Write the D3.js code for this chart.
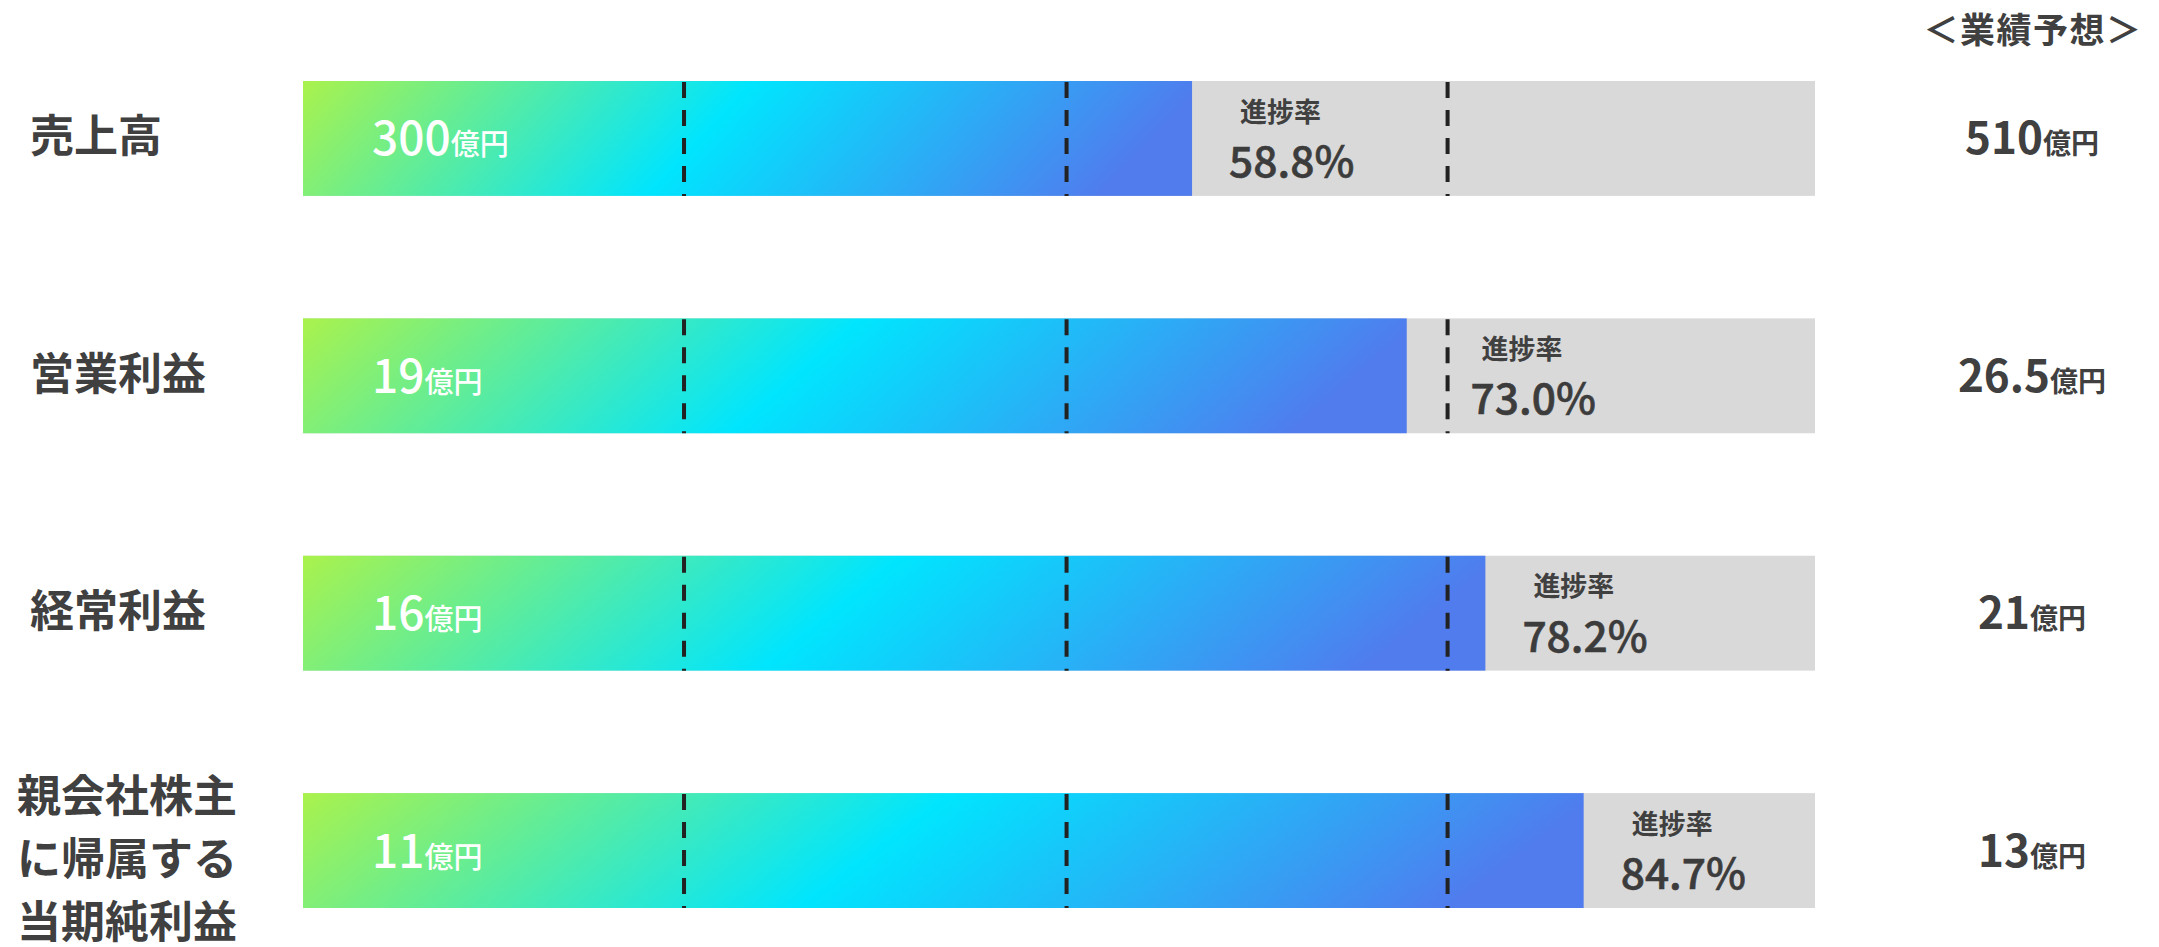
<!DOCTYPE html>
<html>
<head>
<meta charset="utf-8">
<script src="https://cdn.jsdelivr.net/npm/d3@7"></script>
<style>
  html, body { margin: 0; padding: 0; background: #fff; }
  svg { display: block; font-family: "Noto Sans CJK JP", "Noto Sans", sans-serif; }
</style>
</head>
<body>
<div class="diagram-canvas"></div>
<script>
let categories = ["売上高", "営業利益", "経常利益", "親会社株主に帰属する当期純利益"];
let labelLines = [["売上高"], ["営業利益"], ["経常利益"], ["親会社株主", "に帰属する", "当期純利益"]];
let actualValues = ["300", "19", "16", "11"];
let forecastValues = ["510", "26.5", "21", "13"];
let progressRates = [58.8, 73.0, 78.2, 84.7];
let guideValues = [25.2, 50.5, 75.7];
let unitLabel = "億円";
let rateLabel = "進捗率";
let headerLabel = "＜業績予想＞";

function chartProgress() {
  let width = 2159,
    height = 947;

  let rows = categories.map((c, i) => ({
    name: c,
    lines: labelLines[i],
    actual: actualValues[i],
    forecast: forecastValues[i],
    rate: progressRates[i],
  }));

  let xScale = d3.scaleLinear().domain([0, 100]).range([303, 1815]);

  let yScale = d3
    .scaleBand()
    .domain(categories)
    .range([81, 908])
    .paddingInner(0.516)
    .paddingOuter(0);

  let svg = d3
    .select(".diagram-canvas")
    .append("svg")
    .attr("width", width)
    .attr("height", height);

  // diagonal gradient, stretched to each filled bar
  let grad = svg
    .append("defs")
    .append("linearGradient")
    .attr("id", "barGradient")
    .attr("x1", "0%")
    .attr("y1", "0%")
    .attr("x2", "100%")
    .attr("y2", "12%");
  grad.append("stop").attr("offset", "0%").attr("stop-color", "#aaf24c");
  grad.append("stop").attr("offset", "50%").attr("stop-color", "#00e5fe");
  grad.append("stop").attr("offset", "100%").attr("stop-color", "#507cee");

  let row = svg
    .selectAll("g.row")
    .data(rows)
    .enter()
    .append("g")
    .attr("class", "row");

  // gray track = forecast (100%)
  row
    .append("rect")
    .attr("x", xScale(0))
    .attr("y", (d) => yScale(d.name))
    .attr("width", xScale(100) - xScale(0))
    .attr("height", yScale.bandwidth())
    .attr("fill", "#d9d9d9");

  // achieved part
  row
    .append("rect")
    .attr("x", xScale(0))
    .attr("y", (d) => yScale(d.name))
    .attr("width", (d) => xScale(d.rate) - xScale(0))
    .attr("height", yScale.bandwidth())
    .attr("fill", "url(#barGradient)");

  // dashed guides
  guideValues.forEach(function (g) {
    row
      .append("line")
      .attr("x1", xScale(g))
      .attr("x2", xScale(g))
      .attr("y1", (d) => yScale(d.name) + 1)
      .attr("y2", (d) => yScale(d.name) + yScale.bandwidth())
      .attr("stroke", "#222")
      .attr("stroke-width", 4)
      .attr("stroke-dasharray", "16 12");
  });

  // category labels
  row.each(function (d) {
    let mid = yScale(d.name) + yScale.bandwidth() / 2;
    let n = d.lines.length;
    let shift = n > 1 ? 5 : -5;
    d3.select(this)
      .selectAll("text.cat")
      .data(d.lines)
      .enter()
      .append("text")
      .attr("class", "cat")
      .attr("x", n > 1 ? 17 : 30)
      .attr("y", (t, i) => mid + shift + (i - (n - 1) / 2) * 63)
      .attr("dominant-baseline", "central")
      .attr("font-size", 44)
      .attr("font-weight", 700)
      .attr("fill", "#404040")
      .text((t) => t);
  });

  // actual values inside the bar
  let inside = row
    .append("text")
    .attr("x", xScale(0) + 69)
    .attr("y", (d) => yScale(d.name) + yScale.bandwidth() / 2 + 17)
    .attr("fill", "#fff")
    .attr("font-weight", 500);
  inside
    .append("tspan")
    .attr("font-size", 46)
    .text((d) => d.actual);
  inside
    .append("tspan")
    .attr("font-size", 29)
    .text(unitLabel);

  // progress rate labels, pushed past a guide line if one is in the way
  function rateX(d) {
    let end = xScale(d.rate);
    let x = end + 40;
    guideValues.forEach(function (g) {
      let gx = xScale(g);
      if (gx > end && gx < x + 10) x = gx + 26;
    });
    return x;
  }

  row
    .append("text")
    .attr("x", (d) => rateX(d) + 8)
    .attr("y", (d) => yScale(d.name) + 29)
    .attr("dominant-baseline", "central")
    .attr("font-size", 27)
    .attr("font-weight", 700)
    .attr("fill", "#404040")
    .text(rateLabel);

  row
    .append("text")
    .attr("x", (d) => rateX(d) - 3)
    .attr("y", (d) => yScale(d.name) + 96)
    .attr("font-size", 42.5)
    .attr("font-weight", 500)
    .attr("fill", "#3c3c3c")
    .attr("stroke", "#3c3c3c")
    .attr("stroke-width", 0.6)
    .text((d) => d3.format(".1f")(d.rate) + "%");

  // forecast column
  svg
    .append("text")
    .attr("x", 2033)
    .attr("y", 27)
    .attr("text-anchor", "middle")
    .attr("dominant-baseline", "central")
    .attr("font-size", 35)
    .attr("font-weight", 700)
    .attr("letter-spacing", 1.5)
    .attr("fill", "#404040")
    .text(headerLabel);

  let fc = row
    .append("text")
    .attr("x", 2032)
    .attr("y", (d) => yScale(d.name) + yScale.bandwidth() / 2 + 16)
    .attr("text-anchor", "middle")
    .attr("font-weight", 700)
    .attr("fill", "#404040");
  fc.append("tspan")
    .attr("font-size", 44)
    .text((d) => d.forecast);
  fc.append("tspan")
    .attr("font-size", 28)
    .text(unitLabel);
}

chartProgress();
</script>
</body>
</html>
